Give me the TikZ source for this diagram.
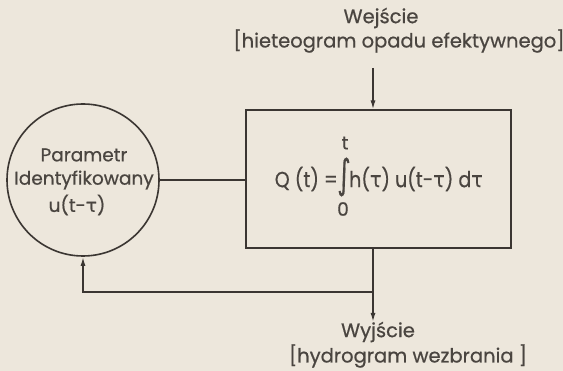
\documentclass[tikz,border=0pt]{standalone}
\usepackage{graphicx}
\usepackage{fontspec}
\setmainfont{Poppins}[FakeBold=0.6]
\newfontfamily\gr{DejaVu Sans}[FakeBold=0.6]
\usetikzlibrary{arrows.meta}
\definecolor{bg}{HTML}{EDE7DC}
\definecolor{ink}{HTML}{3B3632}
\definecolor{txt}{HTML}{4A4540}
\newcommand{\tu}{{\gr τ}}
\newcommand{\tall}[1]{\scalebox{1}[1.15]{#1}}
\begin{document}
\begin{tikzpicture}[x=1pt,y=-1pt,
  line/.style={ink, line width=1.6pt},
  arr/.style={-{Latex[length=9pt,width=5pt]}},
  lbl/.style={text=txt, font=\fontsize{19.5}{19.5}\selectfont, inner sep=0pt},
  clbl/.style={text=txt, font=\fontsize{18.5}{18.5}\selectfont, inner sep=0pt},
  fml/.style={text=txt, font=\fontsize{19}{19}\selectfont, inner sep=0pt}]
\fill[bg] (0,0) rectangle (563,371);
\useasboundingbox (0,0) rectangle (563,371);
% main block
\node[draw=ink, line width=2pt, minimum width=265pt, minimum height=138pt, inner sep=0pt] (box) at (378.5,179.5) {};
% circle
\node[circle, draw=ink, line width=1.6pt, minimum size=152pt, inner sep=0pt] (circ) at (83,180) {};
\node[clbl] (c1) at (84,155) {Parametr};
\node[clbl] (c2) at (84,180) {Identyfikowany};
\node[clbl] (c3) at (77,205) {u(t-\tu)};
% formula
\node[fml, anchor=east] (lhs) at (338,179) {\tall{Q (t) =}};
\node[text=txt, inner sep=0pt, font=\fontsize{32}{32}\gr] (int) at (344,177) {\scalebox{0.8}[1.25]{∫}};
\node[clbl] (up) at (345,143) {t};
\node[clbl] (lo) at (343,209) {0};
\node[fml, anchor=west] (rhs) at (349,179) {\tall{h(\tu) u(t-\tu) d\tu}};
% input
\node[lbl] (in1) at (381,18) {Wejście};
\node[lbl] (in2) at (399,41) {[hieteogram opadu efektywnego]};
\coordinate (inStart) at (373,68);
\draw[line, arr] (inStart) -- (inStart |- box.north);
% output
\coordinate (branch) at (373,292);
\coordinate (outEnd) at (373,322);
\node[lbl] (out1) at (378,332) {Wyjście};
\node[lbl] (out2) at (408,356) {[hydrogram wezbrania ]};
\draw[line, arr] (outEnd |- box.south) -- (outEnd);
\draw[line, arr] (branch) -| (circ.south);
% link
\draw[line] (circ.east) -- (circ.east -| box.west);
\end{tikzpicture}
\end{document}
